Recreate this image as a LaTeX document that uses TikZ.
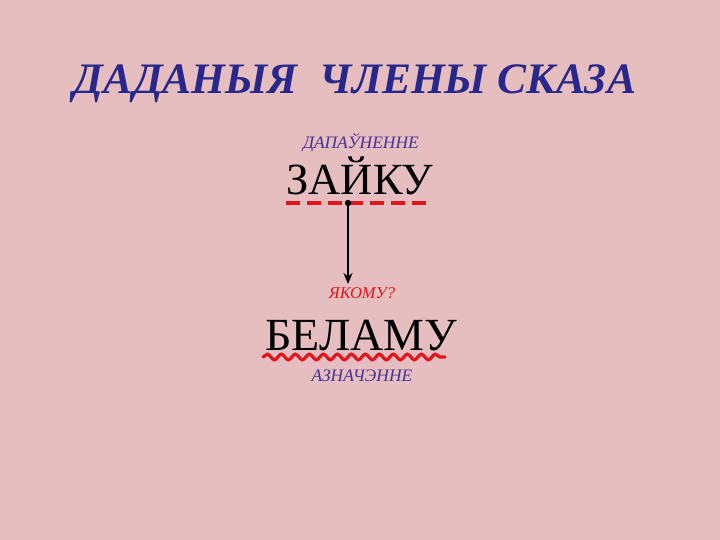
\documentclass[tikz,border=0pt]{standalone}
\usepackage{fontspec}
\setmainfont{Liberation Serif}
\usetikzlibrary{decorations.pathmorphing,arrows.meta}
\definecolor{bgpink}{RGB}{230,190,192}
\definecolor{titleblue}{RGB}{40,40,140}
\definecolor{labelblue}{RGB}{70,50,150}
\definecolor{underred}{RGB}{225,20,30}
\tikzset{
  word/.style={inner sep=0pt, font=\fontsize{46}{50}\selectfont, text=black},
  smalllabel/.style={inner sep=0pt, font=\fontsize{17.5}{19}\itshape\selectfont, text=labelblue},
}
\begin{document}
\begin{tikzpicture}[x=1pt,y=-1pt]
\fill[bgpink] (0,0) rectangle (720,540);
\useasboundingbox (0,0) rectangle (720,540);
\node[inner sep=0pt, font=\fontsize{43.5}{48}\bfseries\itshape\selectfont, text=titleblue, anchor=base] (title) at (355,94) {ДАДАНЫЯ\ \ ЧЛЕНЫ СКАЗА};
\node[smalllabel, anchor=base] (dop) at (361,149) {ДАПАЎНЕННЕ};
\node[word, font=\fontsize{44.5}{50}\selectfont, anchor=base] (zayku) at (360,195) {ЗАЙКУ};
\coordinate (dl) at (286,203);
\coordinate (dr) at (426,203);
\draw[underred, line width=4pt, dash pattern=on 14pt off 7pt] (dl) -- (dr);
\coordinate (dot) at (348,203);
\fill[black] (dot) circle (3.2pt);
\node[inner sep=0pt, font=\fontsize{16.5}{18}\itshape\selectfont, text=underred, anchor=base] (q) at (362,298) {ЯКОМУ?};
\coordinate (tip) at (348,284);
\draw[black, line width=2pt, -{Stealth[length=11pt,width=9pt]}] (dot) -- (tip);
\node[word, anchor=base] (belamu) at (361,350) {БЕЛАМУ};
\coordinate (wl) at (263,357);
\coordinate (wr) at (445,357);
\draw[underred, line width=3.2pt, line cap=round, decorate, decoration={snake, amplitude=2.8pt, segment length=14pt}] (wl) -- (wr);
\node[smalllabel, anchor=base] (azn) at (362,381) {АЗНАЧЭННЕ};
\end{tikzpicture}
\end{document}
